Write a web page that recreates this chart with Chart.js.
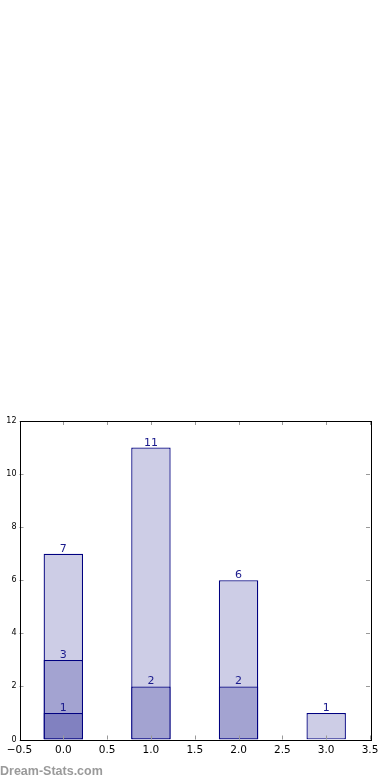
<!DOCTYPE html>
<html>
<head>
<meta charset="utf-8">
<script src="https://cdn.jsdelivr.net/npm/chart.js@4.4.0/dist/chart.umd.min.js"></script>
<style>
  html, body { margin: 0; padding: 0; background: #fff; }
  #wrap { position: relative; width: 390px; height: 780px; }
  #mark {
    position: absolute; left: 0px; top: 764px;
    font: bold 12.5px "Liberation Sans", sans-serif; color: #9a9a9a;
  }
</style>
</head>
<body>
<div id="wrap">
  <canvas id="chart"></canvas>
  <div id="mark">Dream-Stats.com</div>
</div>
<script>
// bar positions on the x axis
const positions = [0, 1, 2, 3];
// three overlapping layers, back to front
const totalCounts = [7, 11, 6, 1];
const midCounts = [3, 2, 2, null];
const lowCounts = [1, null, null, null];
// axis ticks
const xTickMin = -0.5, xTickMax = 3.5, xTickStep = 0.5;
const yTickMin = 0, yTickMax = 12, yTickStep = 2;

const EDGE = '#000080';

function toPoints(vals) {
    return positions.map((x, i) => ({ x: x, y: vals[i] })).filter(p => p.y != null);
}

const barLabels = {
    id: 'barLabels',
    afterDatasetsDraw(chart) {
        const ctx = chart.ctx;
        ctx.save();
        ctx.fillStyle = '#1a1a8c';
        ctx.font = '11px "DejaVu Sans"';
        ctx.textAlign = 'center';
        ctx.textBaseline = 'alphabetic';
        chart.data.datasets.forEach((ds, di) => {
            const meta = chart.getDatasetMeta(di);
            meta.data.forEach((el, i) => {
                ctx.fillText(String(ds.data[i].y), el.x, el.y - 2);
            });
        });
        ctx.restore();
    }
};

const frame = {
    id: 'frame',
    afterDraw(chart) {
        const { ctx, chartArea: a, scales } = chart;
        ctx.save();
        ctx.strokeStyle = '#999';
        ctx.lineWidth = 1;
        ctx.beginPath();
        for (let v = xTickMin; v <= xTickMax + 1e-9; v += xTickStep) {
            const px = Math.round(scales.x.getPixelForValue(v)) + 0.5;
            ctx.moveTo(px, a.bottom); ctx.lineTo(px, a.bottom - 4);
            ctx.moveTo(px, a.top); ctx.lineTo(px, a.top + 4);
        }
        for (let v = yTickMin; v <= yTickMax; v += yTickStep) {
            const py = Math.round(scales.y.getPixelForValue(v)) + 0.5;
            ctx.moveTo(a.left, py); ctx.lineTo(a.left + 4, py);
            ctx.moveTo(a.right, py); ctx.lineTo(a.right - 4, py);
        }
        ctx.stroke();
        ctx.strokeStyle = '#000';
        ctx.strokeRect(Math.round(a.left) + 0.5, Math.round(a.top) + 0.5,
            Math.round(a.right - a.left), Math.round(a.bottom - a.top));
        ctx.restore();
    }
};

function layer(vals, fill) {
    return {
        data: toPoints(vals),
        backgroundColor: fill,
        borderColor: EDGE,
        borderWidth: 1.3,
        borderSkipped: false,
        grouped: false,
        categoryPercentage: 1,
        // ticks every 0.5 set the bar ruler, so 0.9 here = 0.45 data units
        barPercentage: 0.9
    };
}

new Chart(document.getElementById('chart'), {
    type: 'bar',
    data: {
        datasets: [
            layer(lowCounts, '#8181c0'),
            layer(midCounts, '#a3a3d1'),
            layer(totalCounts, '#cdcde6')
        ]
    },
    options: {
        responsive: true,
        maintainAspectRatio: false,
        devicePixelRatio: 1,
        animation: false,
        layout: { padding: { top: 421, right: 20, left: 0, bottom: 0 } },
        plugins: { legend: { display: false }, tooltip: { enabled: false } },
        scales: {
            x: {
                type: 'linear',
                min: xTickMin, max: xTickMax,
                offset: false,
                grid: { display: false, drawTicks: false },
                border: { display: false },
                afterFit: s => { s.height = 40.5; },
                ticks: {
                    stepSize: xTickStep,
                    padding: 4,
                    color: '#000',
                    maxRotation: 0,
                    autoSkip: false,
                    font: { family: 'DejaVu Sans', size: 10.5 },
                    callback: v => v.toFixed(1).replace('-', '\u2212')
                }
            },
            y: {
                min: yTickMin, max: yTickMax,
                grid: { display: false, drawTicks: false },
                border: { display: false },
                afterFit: s => { s.width = 19.5; },
                ticks: {
                    stepSize: yTickStep,
                    padding: 3,
                    color: '#000',
                    font: { family: 'DejaVu Sans', size: 8 }
                }
            }
        }
    },
    plugins: [barLabels, frame]
});
</script>
</body>
</html>
